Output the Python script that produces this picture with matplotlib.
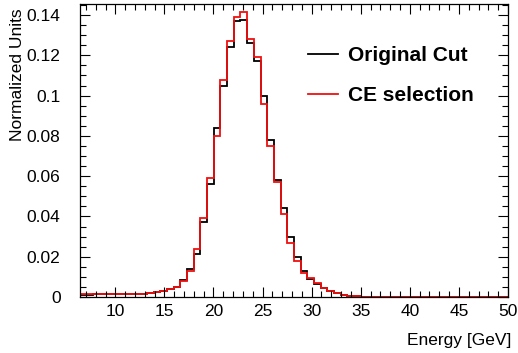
import numpy as np
import matplotlib
matplotlib.use('Agg')
import matplotlib.pyplot as plt
from matplotlib.ticker import MultipleLocator, FormatStrFormatter

# histogram binning (GeV)
e_lo, e_hi, nbins = 6.4, 50.0, 64
edges = np.linspace(e_lo, e_hi, nbins + 1)

# normalized bin contents
orig_cut = [0.0012, 0.0012, 0.0013, 0.0013, 0.0013, 0.0014, 0.0014, 0.0015,
            0.0016, 0.0017, 0.0022, 0.0026, 0.0031, 0.0039, 0.0052, 0.0085,
            0.0140, 0.0215, 0.0370, 0.0560, 0.0840, 0.1050, 0.1240, 0.1370,
            0.1375, 0.1260, 0.1170, 0.1000, 0.0780, 0.0580, 0.0440, 0.0300,
            0.0200, 0.0130, 0.0090, 0.0066, 0.0044, 0.0029, 0.0018, 0.0010,
            0.0006, 0.0003, 0.0002, 0.0002, 0.0001, 0.0001, 0.0001, 0.0001,
            0.0001, 0.0001, 0.0001, 0.0001, 0.0001, 0.0001, 0.0001, 0.0001,
            0.0001, 0.0001, 0.0001, 0.0001, 0.0001, 0.0001, 0.0001, 0.0001]

ce_sel = [0.0013, 0.0013, 0.0013, 0.0013, 0.0014, 0.0014, 0.0014, 0.0015,
          0.0016, 0.0017, 0.0021, 0.0025, 0.0030, 0.0038, 0.0050, 0.0080,
          0.0130, 0.0240, 0.0390, 0.0590, 0.0800, 0.1080, 0.1270, 0.1390,
          0.1415, 0.1280, 0.1190, 0.0960, 0.0750, 0.0570, 0.0410, 0.0270,
          0.0180, 0.0120, 0.0095, 0.0070, 0.0045, 0.0030, 0.0018, 0.0010,
          0.0006, 0.0003, 0.0002, 0.0002, 0.0001, 0.0001, 0.0001, 0.0001,
          0.0001, 0.0001, 0.0001, 0.0001, 0.0001, 0.0001, 0.0001, 0.0001,
          0.0001, 0.0001, 0.0001, 0.0001, 0.0001, 0.0001, 0.0001, 0.0001]

plt.rcParams['font.family'] = ['Liberation Sans', 'DejaVu Sans']

fig = plt.figure(figsize=(5.18, 3.53), dpi=100, facecolor='w')
ax = fig.add_axes([0.1544, 0.1586, 0.8263, 0.8301])

ax.stairs(orig_cut, edges, color='black', lw=1.3, label='Original Cut')
ax.stairs(ce_sel, edges, color='#f01010', lw=1.3, label='CE selection')

ax.set_xlim(e_lo, e_hi)
ax.set_ylim(0, 0.1455)

ax.xaxis.set_major_locator(MultipleLocator(5))
ax.xaxis.set_minor_locator(MultipleLocator(1))
ax.yaxis.set_major_locator(MultipleLocator(0.02))
ax.yaxis.set_minor_locator(MultipleLocator(0.005))
ax.yaxis.set_major_formatter(FormatStrFormatter('%g'))

ax.tick_params(which='both', direction='in', top=True, right=True, labelsize=12.5)
ax.tick_params(which='major', length=7, width=0.8)
ax.tick_params(which='minor', length=4, width=0.8)
ax.tick_params(axis='x', pad=5)
ax.tick_params(axis='y', pad=14)
for s in ax.spines.values():
    s.set_linewidth(0.9)

ax.set_xlabel('Energy [GeV]', fontsize=12.5, ha='right', va='center')
ax.xaxis.set_label_coords(1.009, -0.147)
ax.set_ylabel('Normalized Units', fontsize=12.5, ha='right', va='center')
ax.yaxis.set_label_coords(-0.145, 0.985)

ax.legend(loc='upper left', bbox_to_anchor=(0.49, 0.92), frameon=False,
          prop={'size': 15, 'weight': 'bold'}, handlelength=1.4,
          handletextpad=0.5, labelspacing=1.0)

fig.savefig('out.png', dpi=100)
